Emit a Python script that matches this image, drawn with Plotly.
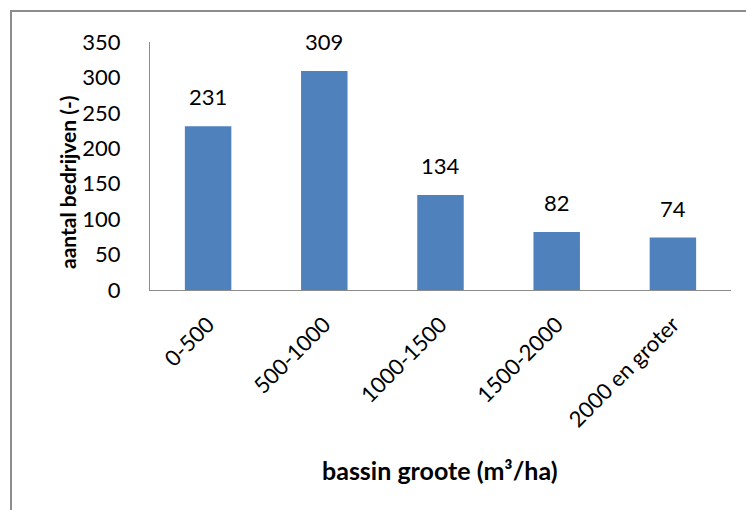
import plotly.graph_objects as go

# Number of farms per basin size class
categories = ["0-500", "500-1000", "1000-1500", "1500-2000", "2000 en groter"]
counts = [231, 309, 134, 82, 74]
y_ticks = [0, 50, 100, 150, 200, 250, 300, 350]

W, H = 746, 510
L, R, T, B = 150, 15, 42, 220
FONT = "Lato, Carlito, 'Open Sans', sans-serif"
BAR = "#4F81BD"
AXIS = "#8C8C8C"

pw, ph = W - L - R, H - T - B


def px_x(x):
    return (x - L) / pw


def px_y(y):
    return (H - B - y) / ph


fig = go.Figure(
    go.Bar(
        x=categories,
        y=counts,
        marker=dict(color=BAR, line=dict(width=0)),
        hoverinfo="x+y",
    )
)

# value labels above bars
for c, v in zip(categories, counts):
    fig.add_annotation(
        x=c, y=v, text=str(v), showarrow=False, yanchor="bottom", yshift=14,
        font=dict(family=FONT, size=22, color="#000000"),
    )

# axis titles
fig.add_annotation(
    xref="paper", yref="paper", x=px_x(67), y=px_y(182),
    text="<b>aantal bedrijven (-)</b>", textangle=-90, showarrow=False,
    xanchor="center", yanchor="middle",
    font=dict(family=FONT, size=21, color="#000000"),
)
fig.add_annotation(
    xref="paper", yref="paper", x=px_x(440), y=px_y(470),
    text="<b>bassin groote (m³/ha)</b>", showarrow=False,
    xanchor="center", yanchor="middle",
    font=dict(family=FONT, size=25, color="#000000"),
)

# outer frame of the chart area
fig.add_shape(
    type="rect", xref="paper", yref="paper",
    x0=px_x(11), y0=px_y(530), x1=px_x(770), y1=px_y(11),
    line=dict(color=AXIS, width=2), fillcolor="rgba(0,0,0,0)", layer="below",
)

fig.update_layout(
    width=W, height=H,
    margin=dict(l=L, r=R, t=T, b=B),
    paper_bgcolor="white", plot_bgcolor="white",
    bargap=0.6, showlegend=False,
    font=dict(family=FONT, size=22, color="#000000"),
)
fig.update_xaxes(
    type="category", tickangle=-45, showline=True, linecolor=AXIS, linewidth=1,
    ticks="", showgrid=False, ticklabelstandoff=12,
    tickfont=dict(family=FONT, size=22, color="#000000"),
)
fig.update_yaxes(
    range=[0, 350], tickvals=y_ticks, showline=True, linecolor=AXIS, linewidth=1,
    ticks="", showgrid=False, zeroline=False, ticklabelstandoff=24,
    tickfont=dict(family=FONT, size=22, color="#000000"),
)

fig.write_html("out.html")
